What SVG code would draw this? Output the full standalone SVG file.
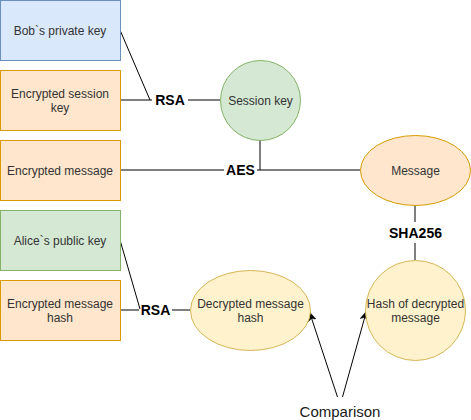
<svg xmlns="http://www.w3.org/2000/svg" width="471" height="420" viewBox="0 0 471 420">
<defs>
<style>
.t{font-family:"Liberation Sans",Arial,sans-serif;font-size:12px;fill:#333333;text-anchor:middle;dominant-baseline:central}
.lb{font-family:"Liberation Sans",Arial,sans-serif;font-size:14px;font-weight:bold;fill:#000;text-anchor:middle;dominant-baseline:central}
.c{font-family:"Liberation Sans",Arial,sans-serif;font-size:15px;fill:#1a1a1a;text-anchor:middle;dominant-baseline:central}
.blue{fill:#dae8fc;stroke:#6c8ebf}
.orange{fill:#ffe6cc;stroke:#d79b00}
.green{fill:#d5e8d4;stroke:#82b366}
.yellow{fill:#fff2cc;stroke:#d6b656}
.e{fill:none;stroke:#000;stroke-width:1}
</style>
<marker id="arr" markerWidth="10" markerHeight="10" refX="9" refY="5" orient="auto" markerUnits="userSpaceOnUse">
<path d="M0,1 L9,5 L0,9 L2.5,5 Z" fill="#000" stroke="#000" stroke-width="0.5"/>
</marker>
</defs>
<g id="edges">
<path class="e" d="M120,30 L150,100"/>
<path class="e" d="M120,100 L152,100"/>
<path class="e" d="M188,100 L220,100"/>
<path class="e" d="M120,170 L224,170"/>
<path class="e" d="M257,170 L360,170"/>
<path class="e" d="M260,140 L260,170"/>
<path class="e" d="M415,205 L415,222"/>
<path class="e" d="M415,243 L415,260"/>
<path class="e" d="M120,240 L140,309"/>
<path class="e" d="M120,310 L139,310"/>
<path class="e" d="M172,310 L190,310"/>
<path class="e" d="M337.5,397 L309.5,312" marker-end="url(#arr)"/>
<path class="e" d="M342.5,397 L366.5,311" marker-end="url(#arr)"/>
<text class="lb" x="170" y="100">RSA</text>
<text class="lb" x="240.5" y="170">AES</text>
<text class="lb" x="415.5" y="232.5">SHA256</text>
<text class="lb" x="155.5" y="310">RSA</text>
</g>
<g id="bob-private-key"><rect class="blue" x="0.5" y="0.5" width="120" height="60"/><text class="t" x="60" y="30.5">Bob`s private key</text></g>
<g id="encrypted-session-key"><rect class="orange" x="0.5" y="70.5" width="120" height="60"/><text class="t" x="60" y="93.5">Encrypted session</text><text class="t" x="60" y="107.5">key</text></g>
<g id="encrypted-message"><rect class="orange" x="0.5" y="140.5" width="120" height="60"/><text class="t" x="60" y="170.5">Encrypted message</text></g>
<g id="alice-public-key"><rect class="green" x="0.5" y="210.5" width="120" height="60"/><text class="t" x="60" y="240.5">Alice`s public key</text></g>
<g id="encrypted-message-hash"><rect class="orange" x="0.5" y="280.5" width="120" height="60"/><text class="t" x="60" y="303.5">Encrypted message</text><text class="t" x="60" y="317.5">hash</text></g>
<g id="session-key"><circle class="green" cx="260.5" cy="100.5" r="40"/><text class="t" x="260.5" y="100.5">Session key</text></g>
<g id="message"><ellipse class="orange" cx="415.5" cy="170.5" rx="55" ry="35"/><text class="t" x="415.5" y="170.5">Message</text></g>
<g id="decrypted-message-hash"><ellipse class="yellow" cx="250.5" cy="310.5" rx="60" ry="40"/><text class="t" x="250.5" y="303.5">Decrypted message</text><text class="t" x="250.5" y="317.5">hash</text></g>
<g id="hash-of-decrypted-message"><circle class="yellow" cx="415.5" cy="310.5" r="50"/><text class="t" x="415.5" y="303.5">Hash of decrypted</text><text class="t" x="415.5" y="317.5">message</text></g>
<g id="comparison"><text class="c" x="340" y="411">Comparison</text></g>
</svg>
